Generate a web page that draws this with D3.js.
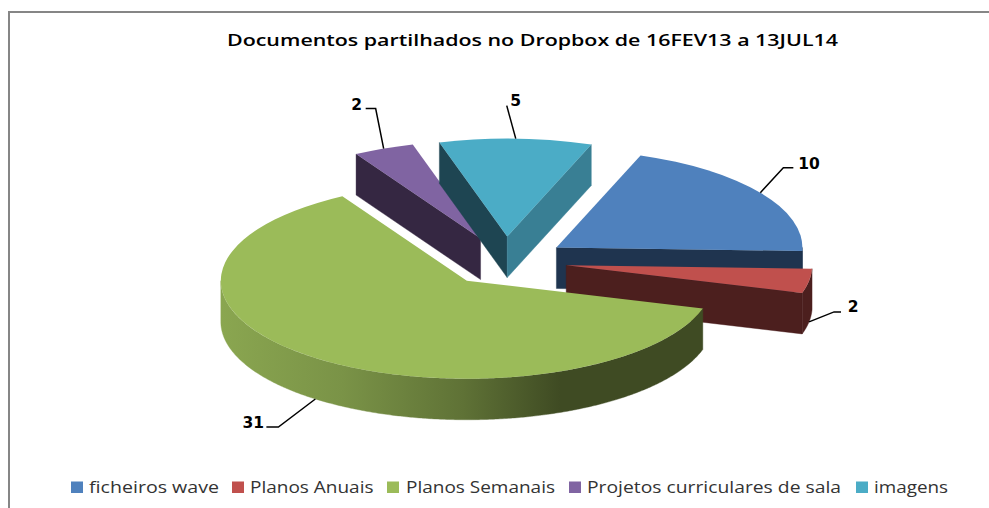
<!DOCTYPE html>
<html><head><meta charset="utf-8">
<script src="https://cdn.jsdelivr.net/npm/d3@7/dist/d3.min.js"></script>
<style>html,body{margin:0;padding:0;background:#fff;overflow:hidden}svg{display:block}</style>
</head><body><div id="chart"></div>
<script>
const categories = ["ficheiros wave","Planos Anuais","Planos Semanais","Projetos curriculares de sala","imagens"];
const values = [10,2,31,2,5];
const topColors = ["#4f81bd","#c0504d","#9bbb59","#8064a2","#4bacc6"];
const wallColors = ["#1f344f","#4c1f1e","url(#greenWall)","#352742","#1e4552"];
const endFaceColors = ["#1f344f","#4c1f1e","#3f4a22","#352742","#397f94"];
const drawOrder = [3,4,0,1,2];
const titleText = "Documentos partilhados no Dropbox de 16FEV13 a 13JUL14";

const W=989,H=508, cx=505, cy=261.3, rx=246, ry=98, depth=41, explode=62;
const svg=d3.select("#chart").append("svg").attr("width",W).attr("height",H);
const defs=svg.append("defs");
const grad=defs.append("linearGradient").attr("id","greenWall").attr("gradientUnits","userSpaceOnUse")
  .attr("x1",221).attr("x2",705).attr("y1",0).attr("y2",0);
[[0,"#8aa650"],[0.25,"#7a9347"],[0.5,"#5f7236"],[0.7,"#3f4b23"],[1,"#3f4b23"]].forEach(s=>grad.append("stop").attr("offset",s[0]).attr("stop-color",s[1]));

// frame
svg.append("path").attr("d",`M989,12H9V508`).attr("fill","none").attr("stroke","#868686").attr("stroke-width",2);

// title
svg.append("text").attr("x",227).attr("y",46).attr("textLength",611).attr("lengthAdjust","spacingAndGlyphs")
  .attr("font-family","'Open Sans',sans-serif").attr("font-weight",600).attr("font-size",17).attr("fill","#000").text(titleText);

const pie=d3.pie().sort(null).startAngle(20*Math.PI/180).endAngle((360+20)*Math.PI/180);
const arcs=pie(values);
const ky=ry/rx;
const arcGen=d3.arc().innerRadius(0).outerRadius(rx);
const line=d3.line();

function centre(a){const m=(a.startAngle+a.endAngle)/2;return [cx+explode*Math.sin(m),cy-explode*ky*Math.cos(m)];}
function pt(c,ang,dz=0){return [c[0]+rx*Math.sin(ang),c[1]-ry*Math.cos(ang)+dz];}

const g=svg.append("g");
drawOrder.forEach(i=>{
  const a=arcs[i],c=centre(a),s=g.append("g");
  if(Math.sin(a.startAngle)<0){
    const col=wallColors[i].startsWith("url")?endFaceColors[i]:wallColors[i];
    s.append("path").attr("d",line([c,pt(c,a.startAngle),pt(c,a.startAngle,depth),[c[0],c[1]+depth]])+"Z")
      .attr("fill",col).attr("stroke",col).attr("stroke-width",0.4);
  }
  if(Math.sin(a.endAngle)>0){
    s.append("path").attr("d",line([c,pt(c,a.endAngle),pt(c,a.endAngle,depth),[c[0],c[1]+depth]])+"Z")
      .attr("fill",endFaceColors[i]).attr("stroke",endFaceColors[i]).attr("stroke-width",0.4);
  }
  // outer wall: the part of the rim that lies on the near half of the ellipse
  const lo=Math.max(a.startAngle,Math.PI/2), hi=Math.min(a.endAngle,3*Math.PI/2);
  if(hi>lo){
    const n=Math.ceil((hi-lo)/(Math.PI/360));
    const angs=d3.range(n+1).map(k=>lo+(hi-lo)*k/n);
    const pts=angs.map(t=>pt(c,t)).concat(angs.slice().reverse().map(t=>pt(c,t,depth)));
    s.append("path").attr("d",line(pts)+"Z").attr("fill",wallColors[i]).attr("stroke",wallColors[i]).attr("stroke-width",0.4);
  }
  s.append("path").attr("d",arcGen(a))
    .attr("transform",`translate(${c[0]},${c[1]}) scale(1,${ky})`).attr("fill",topColors[i]);
});

// data labels with leader lines (offsets from the slice's mid-rim point)
const leaderBend=[[23,-25],[25,-10],[-37,28],[-8,-40],[-9,-33]];
const leaderTail=[[10,0],[7,0],[-12,0],[-10,0],[0,0]];
const labelOffset=[[5,1],[12,0],[-13,1],[-9,1],[9,0]];
const labelAnchor=["start","middle","middle","middle","middle"];
const lab=svg.append("g");
arcs.forEach((a,i)=>{
  const c=centre(a),m=(a.startAngle+a.endAngle)/2;
  const p0=pt(c,m,Math.cos(m)<0?depth:0);
  const p1=[p0[0]+leaderBend[i][0],p0[1]+leaderBend[i][1]];
  const p2=[p1[0]+leaderTail[i][0],p1[1]+leaderTail[i][1]];
  lab.append("path").attr("d",line([p0,p1,p2])).attr("fill","none").attr("stroke","#000").attr("stroke-width",1.5);
  lab.append("text").attr("x",p2[0]+labelOffset[i][0]).attr("y",p2[1]+labelOffset[i][1]).attr("text-anchor",labelAnchor[i])
    .attr("font-family","'DejaVu Sans',sans-serif").attr("font-weight",700).attr("font-size",15.5).attr("fill","#000").text(values[i]);
});

// legend
const legendSwatchX=[71,232,387,569,856];
const legendTextX=[89,250,406,587,874];
const legendTextW=[130,123.5,149,254,74];
const leg=svg.append("g");
categories.forEach((n,i)=>{
  leg.append("rect").attr("x",legendSwatchX[i]).attr("y",481.5).attr("width",12).attr("height",11.5).attr("fill",topColors[i]);
  leg.append("text").attr("x",legendTextX[i]).attr("y",493).attr("textLength",legendTextW[i]).attr("lengthAdjust","spacingAndGlyphs")
    .attr("font-family","'Open Sans',sans-serif").attr("font-size",17).attr("fill","#333").text(n);
});
</script></body></html>
